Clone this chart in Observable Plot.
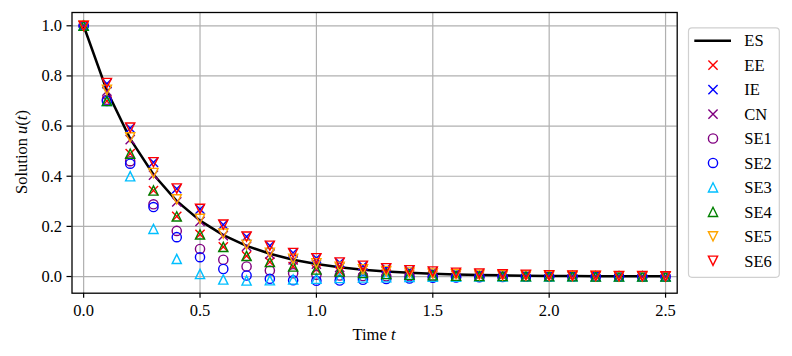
<!DOCTYPE html>
<html><head><meta charset="utf-8">
<script src="https://cdn.jsdelivr.net/npm/d3@7"></script>
<script src="https://cdn.jsdelivr.net/npm/@observablehq/plot@0.6"></script>
<style>html,body{margin:0;background:#fff;overflow:hidden} svg{display:block}</style>
</head><body><div id="chart"></div>
<script>
// time grid
const times = [0,0.1,0.2,0.3,0.4,0.5,0.6,0.7,0.8,0.9,1.0,1.1,1.2,1.3,1.4,1.5,1.6,1.7,1.8,1.9,2.0,2.1,2.2,2.3,2.4,2.5];
// exact solution
const ES  = [1,0.741,0.549,0.407,0.301,0.223,0.165,0.122,0.091,0.067,0.050,0.037,0.027,0.020,0.015,0.011,0.008,0.006,0.005,0.003,0.002,0.002,0.001,0.001,0.001,0.001];
const EE  = [1,0.700,0.490,0.343,0.240,0.168,0.118,0.082,0.058,0.040,0.028,0.020,0.014,0.010,0.007,0.005,0.003,0.002,0.002,0.001,0.001,0.001,0,0,0,0];
const IE  = [1,0.769,0.592,0.455,0.350,0.269,0.207,0.159,0.123,0.094,0.073,0.056,0.043,0.033,0.025,0.020,0.015,0.012,0.009,0.007,0.005,0.004,0.003,0.002,0.002,0.001];
const CN  = [1,0.739,0.546,0.404,0.298,0.220,0.163,0.120,0.089,0.066,0.049,0.036,0.026,0.020,0.014,0.011,0.008,0.006,0.004,0.003,0.002,0.002,0.001,0.001,0.001,0.001];
const SE1 = [1,0.705,0.460,0.288,0.182,0.110,0.067,0.040,0.024,0.013,0.007,0.004,0.002,0.001,0.001,0,0,0,0,0,0,0,0,0,0,0];
const SE2 = [1,0.700,0.450,0.277,0.157,0.077,0.030,0.004,-0.009,-0.015,-0.017,-0.016,-0.013,-0.010,-0.008,-0.005,-0.004,-0.003,-0.002,-0.001,-0.001,0,0,0,0,0];
const SE3 = [1,0.700,0.400,0.190,0.070,0.010,-0.012,-0.016,-0.015,-0.012,-0.009,-0.006,-0.004,-0.003,-0.002,-0.001,-0.001,0,0,0,0,0,0,0,0,0];
const SE4 = [1,0.700,0.490,0.343,0.240,0.168,0.118,0.082,0.058,0.040,0.028,0.020,0.014,0.010,0.007,0.005,0.003,0.002,0.002,0.001,0.001,0.001,0,0,0,0];
const SE5 = [1,0.745,0.555,0.413,0.308,0.230,0.171,0.127,0.095,0.071,0.053,0.039,0.029,0.022,0.016,0.012,0.009,0.007,0.005,0.004,0.003,0.002,0.002,0.001,0.001,0.001];
const SE6 = [1,0.772,0.594,0.456,0.351,0.270,0.207,0.159,0.123,0.094,0.073,0.056,0.043,0.033,0.025,0.020,0.015,0.012,0.009,0.007,0.005,0.004,0.003,0.002,0.002,0.001];
const xTicks = [0,0.5,1.0,1.5,2.0,2.5];
const yTicks = [0,0.2,0.4,0.6,0.8,1.0];
const seriesNames = ["EE","IE","CN","SE1","SE2","SE3","SE4","SE5","SE6"];
const seriesValues = [EE,IE,CN,SE1,SE2,SE3,SE4,SE5,SE6];

// styling
const seriesColors = ["#ff0000","#0000ff","#800080","#800080","#0000ff","#00bfff","#008000","#ffa500","#ff0000"];
const seriesKinds  = ["x","x","x","o","o","^","^","v","v"];
const FONT = "'Liberation Serif', 'Times New Roman', serif";
const FS = 16.5;

function sym(kind){
  return {draw(ctx,size){
    const s = Math.sqrt(size/Math.PI);
    if(kind==="x"){ctx.moveTo(-s,-s);ctx.lineTo(s,s);ctx.moveTo(-s,s);ctx.lineTo(s,-s);}
    else if(kind==="o"){ctx.moveTo(s,0);ctx.arc(0,0,s,0,2*Math.PI);}
    else if(kind==="^"){ctx.moveTo(0,-s);ctx.lineTo(s,s);ctx.lineTo(-s,s);ctx.closePath();}
    else {ctx.moveTo(0,s);ctx.lineTo(s,-s);ctx.lineTo(-s,-s);ctx.closePath();}
  }};
}

const esData = times.map((t,i)=>({t, u:ES[i]}));
const R = 4.6;
const dotMarks = seriesNames.map((name,k)=>
  Plot.dot(times.map((t,i)=>({t,u:seriesValues[k][i]})), {
    x:"t", y:"u", r:R, symbol:sym(seriesKinds[k]), fill:"none",
    stroke:seriesColors[k], strokeWidth:1.4
  })
);

const chart = Plot.plot({
  width:792, height:356,
  marginLeft:71.5, marginRight:115.3, marginTop:12, marginBottom:63.3,
  style:{fontFamily:FONT, fontSize:FS+"px", background:"white", color:"black"},
  x:{domain:[-0.05,2.55]},
  y:{domain:[-0.0665,1.053]},
  marks:[
    Plot.gridX(xTicks,{stroke:"#b0b0b0", strokeOpacity:1, strokeWidth:1.2}),
    Plot.gridY(yTicks,{stroke:"#b0b0b0", strokeOpacity:1, strokeWidth:1.2}),
    Plot.axisX(xTicks,{tickSize:5, tickPadding:6, tickFormat:d3.format(".1f"), label:null, strokeWidth:1.2, fontSize:FS, fontFamily:FONT}),
    Plot.axisY(yTicks,{tickSize:5, tickPadding:5, tickFormat:d3.format(".1f"), label:null, strokeWidth:1.2, fontSize:FS, fontFamily:FONT}),
    Plot.line(esData,{x:"t", y:"u", stroke:"black", strokeWidth:2.5}),
    ...dotMarks,
    Plot.frame({stroke:"black", strokeWidth:1.3})
  ]
});
document.getElementById("chart").appendChild(chart);

// axis labels and legend
const svg = d3.select(chart);
const xl = svg.append("text").attr("x",374).attr("y",340).attr("text-anchor","middle")
  .attr("font-family",FONT).attr("font-size",FS).attr("fill","black");
xl.append("tspan").text("Time ");
xl.append("tspan").attr("font-style","italic").text("t");
const yl = svg.append("text").attr("transform","translate(27,152) rotate(-90)").attr("text-anchor","middle")
  .attr("font-family",FONT).attr("font-size",FS).attr("fill","black");
yl.append("tspan").text("Solution ");
yl.append("tspan").attr("font-style","italic").text("u");
yl.append("tspan").text("(");
yl.append("tspan").attr("font-style","italic").text("t");
yl.append("tspan").text(")");

const lg = svg.append("g");
lg.append("rect").attr("x",688.5).attr("y",27.8).attr("width",90.8).attr("height",249.5).attr("rx",3.5)
  .attr("fill","white").attr("fill-opacity",0.8).attr("stroke","#d0d0d0").attr("stroke-width",1.2);
const rowY = i => 40.7 + 24.45*i;
lg.append("line").attr("x1",694.3).attr("x2",731).attr("y1",rowY(0)).attr("y2",rowY(0))
  .attr("stroke","black").attr("stroke-width",2.5);
lg.append("text").attr("x",744.3).attr("y",rowY(0)).attr("dy","0.35em").attr("text-anchor","start")
  .attr("font-family",FONT).attr("font-size",FS).attr("fill","black").text("ES");
seriesNames.forEach((name,k)=>{
  const p = d3.path();
  sym(seriesKinds[k]).draw(p, Math.PI*R*R);
  lg.append("path").attr("d",p.toString()).attr("transform",`translate(713,${rowY(k+1)})`)
    .attr("fill","none").attr("stroke",seriesColors[k]).attr("stroke-width",1.4);
  lg.append("text").attr("x",744.3).attr("y",rowY(k+1)).attr("dy","0.35em").attr("text-anchor","start")
    .attr("font-family",FONT).attr("font-size",FS).attr("fill","black").text(name);
});
</script>
</body></html>
